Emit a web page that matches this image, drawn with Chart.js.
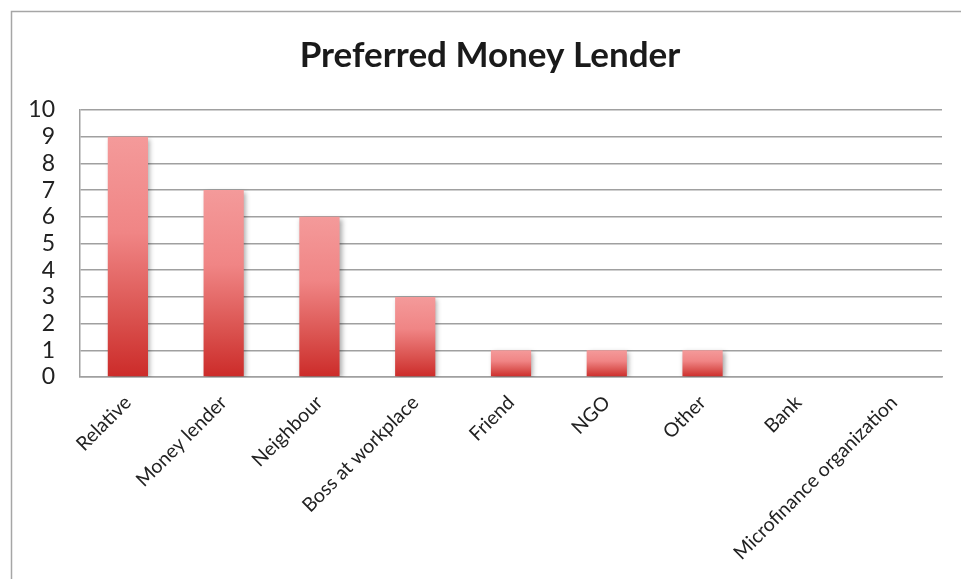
<!DOCTYPE html>
<html>
<head>
<meta charset="utf-8">
<script src="https://cdn.jsdelivr.net/npm/chart.js@4/dist/chart.umd.min.js"></script>
<style>
html,body{margin:0;padding:0;background:#fff;}
#wrap{width:961px;height:579px;position:relative;}
</style>
</head>
<body>
<div id="wrap"><canvas id="c" width="961" height="579"></canvas></div>
<script>
const categories = ["Relative","Money lender","Neighbour","Boss at workplace","Friend","NGO","Other","Bank","Microfinance organization"];
const values = [9,7,6,3,1,1,1,0,0];
const yTicks = [0,1,2,3,4,5,6,7,8,9,10];
const chartTitle = "Preferred Money Lender";

const frame = {
  id: 'frame',
  afterLayout(chart){
    // widen the y-axis label clip area so tick labels are not cut
    chart.scales.y.left = 14;
  },
  beforeDraw(chart){
    const ctx = chart.ctx;
    ctx.save();
    ctx.fillStyle = '#fff';
    ctx.fillRect(0,0,chart.width,chart.height);
    ctx.strokeStyle = '#a6a6a6';
    ctx.lineWidth = 1.5;
    ctx.beginPath();
    ctx.moveTo(11.5, chart.height);
    ctx.lineTo(11.5, 11.5);
    ctx.lineTo(chart.width, 11.5);
    ctx.stroke();
    ctx.restore();
  }
};
const barShadow = {
  id: 'barShadow',
  beforeDatasetsDraw(chart){
    const ctx = chart.ctx;
    ctx.save();
    ctx.shadowColor = 'rgba(0,0,0,0.35)';
    ctx.shadowBlur = 5;
    ctx.shadowOffsetX = 2;
    ctx.shadowOffsetY = 2;
  },
  afterDatasetsDraw(chart){
    chart.ctx.restore();
  }
};

function barGradient(context){
  const chart = context.chart;
  const {ctx, chartArea, scales} = chart;
  if (!chartArea || context.parsed === undefined) return '#e06060';
  const v = context.parsed.y;
  const top = scales.y.getPixelForValue(v);
  const bottom = scales.y.getPixelForValue(0);
  if (!(bottom > top)) return '#e06060';
  const g = ctx.createLinearGradient(0, top, 0, bottom);
  g.addColorStop(0, '#f49a9a');
  g.addColorStop(0.4, '#f08585');
  g.addColorStop(0.75, '#da524f');
  g.addColorStop(1, '#cc2b29');
  return g;
}

new Chart(document.getElementById('c'), {
  type: 'bar',
  data: {
    labels: categories,
    datasets: [{
      data: values,
      backgroundColor: barGradient,
      borderWidth: 0,
      categoryPercentage: 1,
      barPercentage: 0.42
    }]
  },
  options: {
    responsive: false,
    animation: false,
    devicePixelRatio: 1,
    layout: { padding: { left: 38, right: 19, top: 0, bottom: 0 } },
    plugins: {
      legend: { display: false },
      tooltip: { enabled: false },
      title: {
        display: true,
        text: chartTitle,
        color: '#1a1a1a',
        font: { family: 'Lato', size: 35, weight: 'bold' },
        padding: { top: 35, bottom: 33 }
      }
    },
    scales: {
      x: {
        grid: { display: false, drawTicks: false },
        border: { display: true, color: '#a0a0a0', width: 1.5 },
        ticks: {
          color: '#222',
          font: { family: 'Lato', size: 19.5 },
          minRotation: 45,
          maxRotation: 45,
          autoSkip: false,
          padding: 14
        },
        afterFit(scale){ scale.height = 579 - 377; }
      },
      y: {
        min: 0,
        max: 10,
        afterBuildTicks(scale){ scale.ticks = yTicks.map(v => ({value: v})); },
        grid: { color: '#a0a0a0', lineWidth: 1.5, drawTicks: false },
        border: { display: true, color: '#a0a0a0', width: 1.5 },
        ticks: {
          color: '#222',
          font: { family: 'Lato', size: 23 },
          padding: 25,
          autoSkip: false
        },
        afterFit(scale){ scale.width = 80 - 38; }
      }
    }
  },
  plugins: [frame, barShadow]
});
</script>
</body>
</html>
